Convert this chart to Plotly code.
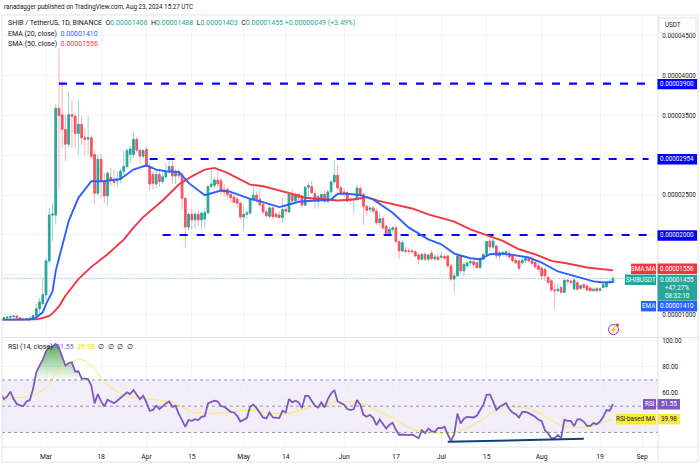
import pandas as pd
import plotly.graph_objects as go

# Prices are in units of 0.00000001 USDT
opens = [975,950,960,968,978,982,960,945,940,950,955,990,1075,1137,
 1250,1675,2250,2250,3590,3510,3325,3140,3510,3490,3275,3390,3220,3205,3220,3010,2525,2950,2675,2490,2725,2700,2680,2700,2800,2860,3010,3010,3200,3065,2990,
 3075,2860,2760,2640,2760,2670,2730,2790,2860,2740,2790,2760,2460,2100,2260,2190,2260,2190,2200,2280,2610,2625,2690,2680,2570,2570,2510,2475,2450,2400,
 2225,2260,2275,2450,2500,2450,2385,2290,2235,2340,2260,2250,2220,2320,2290,2510,2430,2510,2490,2375,2600,2610,2520,2420,2440,2510,2420,2542,2667,2750,2592,
 2540,2530,2450,2445,2445,2585,2510,2360,2320,2340,2300,2155,2205,2110,2010,2070,2090,1917,1800,1808,1800,1800,1790,1750,1696,1758,1696,1770,1700,1725,
 1720,1730,1737,1612,1446,1487,1737,1550,1612,1650,1665,1650,1592,1696,1758,1925,1850,1862,1737,1767,1770,1770,1737,1680,1675,1650,1683,1700,1675,1655,1612,
 1583,1570,1467,1425,1310,1300,1340,1280,1433,1420,1321,1400,1330,1375,1360,1335,1300,1330,1305,1342,1350,1400,1406]
highs = [985,965,975,985,990,990,965,955,955,965,995,1137,1210,1460,
 1712,2337,2400,3650,4340,3940,3510,3800,3700,3530,3700,3490,3340,3490,3260,3060,3010,3020,2780,2800,2840,2820,2800,2830,3050,3090,3120,3290,3230,3080,3080,
 3110,2900,2800,2820,2820,2780,2900,2930,2950,2830,2830,2790,2480,2280,2330,2280,2310,2290,2340,2620,2825,2720,2780,2720,2640,2600,2560,2520,2480,2420,
 2360,2300,2470,2610,2550,2570,2420,2320,2360,2360,2290,2300,2470,2370,2530,2570,2530,2530,2520,2610,2660,2680,2560,2500,2510,2560,2560,2680,2933,2880,2620,
 2590,2560,2470,2460,2640,2630,2530,2380,2370,2370,2330,2280,2240,2130,2100,2110,2110,1930,1940,1850,1840,1830,1810,1780,1770,1780,1750,1810,1760,1770,
 1790,1770,1750,1640,1540,1760,1760,1660,1670,1700,1690,1680,1710,1760,1925,1990,1960,1880,1800,1800,1810,1810,1760,1720,1700,1710,1730,1720,1740,1680,1650,
 1600,1590,1490,1450,1404,1400,1370,1440,1450,1440,1450,1440,1370,1400,1380,1350,1340,1345,1335,1390,1420,1440,1488]
lows = [940,935,945,955,955,950,935,930,935,940,945,975,1020,1130,
 1180,1640,1920,2130,2550,3090,2925,3090,3090,3090,3010,3130,3010,3010,2960,2390,2490,2470,2400,2360,2610,2630,2600,2650,2750,2830,2900,2970,3040,2900,2950,
 2850,2560,2570,2590,2600,2640,2710,2770,2640,2640,2700,2320,1840,2050,2070,2080,2110,2070,2090,2260,2590,2580,2600,2500,2480,2450,2410,2400,2340,2190,
 2060,2200,2250,2420,2400,2360,2260,2220,2210,2200,2210,2210,2150,2260,2280,2400,2400,2430,2340,2360,2480,2520,2330,2330,2420,2400,2400,2500,2630,2560,2510,
 2480,2410,2380,2270,2420,2440,2130,2240,2280,2270,2130,2110,2070,1990,1990,2040,1900,1700,1780,1770,1760,1770,1720,1630,1680,1670,1670,1680,1680,1680,
 1690,1690,1590,1420,1258,1470,1520,1480,1590,1610,1580,1570,1570,1680,1740,1800,1820,1700,1690,1730,1720,1700,1660,1640,1560,1620,1650,1660,1630,1580,1540,
 1440,1420,1380,1290,1071,1290,1260,1270,1370,1390,1310,1300,1310,1320,1290,1290,1290,1285,1295,1330,1340,1395,1403]
closes = [950,960,968,978,982,960,945,940,950,955,990,1075,1160,1250,
 1675,2250,2262,3590,3500,3325,3140,3510,3490,3275,3390,3220,3200,3220,2990,2525,2950,2675,2490,2775,2690,2660,2700,2800,2860,3060,3080,3200,3065,2990,3060,
 2860,2640,2650,2760,2670,2730,2790,2860,2740,2790,2745,2460,2100,2260,2190,2260,2190,2275,2280,2610,2640,2690,2640,2560,2540,2510,2470,2410,2400,2225,
 2260,2280,2450,2500,2450,2380,2290,2240,2340,2230,2230,2220,2320,2300,2510,2430,2510,2470,2375,2600,2620,2530,2425,2480,2510,2420,2540,2667,2750,2592,2530,
 2520,2425,2440,2455,2590,2510,2360,2310,2340,2300,2155,2205,2090,2010,2070,2090,1917,1800,1905,1795,1795,1790,1738,1696,1758,1696,1750,1700,1725,1690,
 1735,1710,1612,1446,1487,1737,1550,1633,1650,1665,1630,1592,1696,1758,1917,1850,1925,1737,1767,1780,1790,1725,1675,1650,1583,1683,1704,1675,1642,1600,1570,
 1487,1487,1404,1308,1300,1320,1280,1433,1420,1405,1433,1320,1365,1340,1310,1300,1320,1300,1325,1375,1405,1406,1455]

rsi = [59.2,55.4,57.4,61,55.4,51.6,50.6,50.1,53.6,54.6,63,75.8,80.9,85.2,
 91.8,94.9,95.4,97.4,94.4,87.3,80.9,82.9,83.4,76.3,76.6,71.2,70.7,70.7,65.6,52.1,59.2,53.6,49.8,54.9,53.6,52.3,54.1,56.2,57.9,60.5,59.2,62.3,58.7,55.4,57.9,
 52.9,46.5,47,50.3,47.8,49.8,52.1,53.6,49.5,50.3,43.9,39.4,34.3,39.4,38.8,40.1,39.4,41.9,42.4,52.1,52.9,54.1,53.6,50.1,49.5,47.8,45.7,45.2,42.7,38.3,
 39.4,40.9,49.5,51.1,48.5,44.4,41.4,40.6,45.2,41.4,41.4,40.9,46.5,45.2,55.4,52.9,54.1,52.9,48.5,57.9,57.9,54.1,50.3,49,52.9,49,55.4,59.7,62.3,53.6,52.3,
 51.1,47.8,47,47.8,54.6,51.1,43.4,41.9,43.4,40.9,35.5,39.9,36.3,33,35.8,37.3,32,28.1,28.4,27.9,27.9,28.4,27.1,25.6,31.7,29.4,33,31,30.4,33.5,
 33.2,34.3,28.6,23.5,28.6,44.4,36.8,40.4,41.9,41.9,41.4,42.9,47.2,51.1,58.7,59,53.6,47.2,49.5,51.1,52.3,47.8,45.2,43.9,41.4,45.7,45.7,44.7,43.4,41.9,39.6,
 38.8,31.7,29.2,25.6,25.6,28.1,25.6,39.6,38.8,38.8,34.8,39.9,39.9,38.1,35,35,37.1,36.3,38.3,41.9,47,46.5,51.55]

ema_dates = ["2024-02-16","2024-02-25","2024-02-27","2024-02-29","2024-03-01","2024-03-03","2024-03-04","2024-03-06","2024-03-08","2024-03-11","2024-03-15","2024-03-19","2024-03-24","2024-03-28","2024-04-01","2024-04-04","2024-04-07","2024-04-11","2024-04-14","2024-04-19","2024-04-24","2024-04-27","2024-04-30","2024-05-03","2024-05-07","2024-05-12","2024-05-15","2024-05-18","2024-05-24","2024-05-28","2024-05-30","2024-06-02","2024-06-06","2024-06-10","2024-06-16","2024-06-21","2024-06-27","2024-07-01","2024-07-05","2024-07-10","2024-07-13","2024-07-16","2024-07-19","2024-07-23","2024-07-28","2024-08-01","2024-08-06","2024-08-12","2024-08-17","2024-08-20","2024-08-23"]
ema_values = [937,937,967,1029,1133,1291,1550,1862,2175,2467,2675,2675,2704,2821,2875,2821,2800,2792,2654,2500,2558,2542,2496,2454,2412,2350,2383,2417,2437,2446,2517,2517,2500,2446,2279,2092,1946,1883,1767,1708,1696,1758,1767,1750,1717,1654,1542,1475,1417,1404,1410]

sma_dates = ["2024-02-16","2024-02-27","2024-02-29","2024-03-02","2024-03-03","2024-03-05","2024-03-07","2024-03-11","2024-03-15","2024-03-20","2024-03-25","2024-03-28","2024-03-31","2024-04-06","2024-04-11","2024-04-15","2024-04-19","2024-04-22","2024-04-26","2024-04-30","2024-05-03","2024-05-07","2024-05-12","2024-05-16","2024-05-20","2024-05-25","2024-05-30","2024-06-04","2024-06-08","2024-06-12","2024-06-17","2024-06-22","2024-06-27","2024-06-29","2024-07-05","2024-07-10","2024-07-15","2024-07-20","2024-07-25","2024-07-30","2024-08-04","2024-08-09","2024-08-15","2024-08-23"]
sma_values = [937,941,958,983,1016,1104,1237,1446,1600,1758,1941,2092,2225,2433,2633,2737,2821,2842,2779,2696,2633,2612,2562,2517,2467,2446,2433,2446,2475,2425,2375,2333,2258,2237,2167,2071,1996,1925,1821,1758,1675,1642,1592,1556]

rsi_ma_dates = ["2024-02-17","2024-02-18","2024-02-20","2024-02-24","2024-02-27","2024-03-01","2024-03-04","2024-03-08","2024-03-11","2024-03-13","2024-03-16","2024-03-19","2024-03-22","2024-03-26","2024-03-31","2024-04-05","2024-04-09","2024-04-12","2024-04-15","2024-04-20","2024-04-26","2024-04-30","2024-05-05","2024-05-08","2024-05-14","2024-05-18","2024-05-23","2024-05-28","2024-06-03","2024-06-08","2024-06-11","2024-06-16","2024-06-20","2024-06-23","2024-06-30","2024-07-05","2024-07-09","2024-07-13","2024-07-17","2024-07-21","2024-07-27","2024-08-01","2024-08-05","2024-08-08","2024-08-13","2024-08-17","2024-08-23"]
rsi_ma_values = [52.9,55.4,56.7,56.7,59.2,63.8,74.5,82.2,86,84.7,78.3,68.1,62.3,57.2,55.9,54.6,52.9,49,45.7,44.4,45,46.5,47,45.2,43.9,46.5,49.5,52.9,53.6,51.1,46.5,41.4,35,31.7,29.4,29.9,33.2,38.8,45.7,49.5,49,43.9,37.6,34.5,33.7,35,39.98]

level_values = [3900, 2954, 2000]
level_starts = ["2024-03-05", "2024-04-02", "2024-04-06"]
level_end = "2024-09-03"
trend_dates = ["2024-07-03", "2024-08-14"]
trend_values = [22.9, 25.1]
last_price = 1455

x_tick_dates = ["2024-03-01","2024-03-18","2024-04-01","2024-04-15","2024-05-01","2024-05-14","2024-06-01","2024-06-17","2024-07-01","2024-07-15","2024-08-01","2024-08-19","2024-09-01"]
x_tick_text = ["Mar","18","Apr","15","May","14","Jun","17","Jul","15","Aug","19","Sep"]
price_ticks = [1000,1500,2000,2500,3000,3500,4000,4500]
covered_price_ticks = [1500,2000,3000]
rsi_ticks = [100,80,60,40]
covered_rsi_ticks = [40]

UNIT = 1e-8
P = lambda seq: [v * UNIT for v in seq]
dates = pd.date_range("2024-02-16", periods=len(closes), freq="D")
W, H = 700, 466
FONT = "Roboto"
TXT = "#131722"
UP, DOWN = "#26a69a", "#f7525f"
BLUE, RED = "#2962ff", "#f23645"
PURPLE = "#7e57c2"
TAG_SIZE = 6.3
X = lambda px: px / W
Y = lambda py: 1 - py / H

fig = go.Figure()
# wicks
fig.add_trace(go.Candlestick(x=dates, open=P(opens), high=P(highs), low=P(lows), close=P(closes),
    increasing=dict(line=dict(color="#8fd0c8", width=0.9), fillcolor="#8fd0c8"),
    decreasing=dict(line=dict(color="#f9a5aa", width=0.9), fillcolor="#f9a5aa"),
    whiskerwidth=0, showlegend=False, hoverinfo="skip", xaxis="x", yaxis="y"))
# bodies
body_hi = [max(a, b) for a, b in zip(opens, closes)]
body_lo = [min(a, b) for a, b in zip(opens, closes)]
fig.add_trace(go.Candlestick(x=dates, open=P(opens), high=P(body_hi), low=P(body_lo), close=P(closes),
    increasing=dict(line=dict(color=UP, width=0.9), fillcolor=UP),
    decreasing=dict(line=dict(color=DOWN, width=0.9), fillcolor=DOWN),
    whiskerwidth=0, showlegend=False, hoverinfo="skip", xaxis="x", yaxis="y"))

fig.add_trace(go.Scatter(x=[dates[0], "2024-09-05"], y=P([last_price, last_price]), mode="lines",
    line=dict(color="#26a69a", width=0.8, dash="1px,2px"), showlegend=False, xaxis="x", yaxis="y"))
for value, start in zip(level_values, level_starts):
    fig.add_trace(go.Scatter(x=[start, level_end], y=P([value, value]), mode="lines",
        line=dict(color="#0000ff", width=2.2, dash="8px,9px"), showlegend=False, xaxis="x", yaxis="y"))
fig.add_trace(go.Scatter(x=sma_dates, y=P(sma_values), mode="lines", line=dict(color=RED, width=1.9),
    showlegend=False, xaxis="x", yaxis="y"))
fig.add_trace(go.Scatter(x=ema_dates, y=P(ema_values), mode="lines", line=dict(color=BLUE, width=1.9),
    showlegend=False, xaxis="x", yaxis="y"))

# RSI pane
green_x = list(dates[10:30])
green_y = [max(r, 70) for r in rsi[10:30]]
fig.add_trace(go.Scatter(x=green_x, y=green_y, mode="lines", line=dict(width=0), fill="toself",
    fillgradient=dict(type="vertical", colorscale=[[0, "rgba(76,175,80,0.03)"], [1, "rgba(67,160,71,0.9)"]]),
    showlegend=False, xaxis="x2", yaxis="y2"))
fig.add_trace(go.Scatter(x=rsi_ma_dates, y=rsi_ma_values, mode="lines", line=dict(color="#fde95e", width=1),
    showlegend=False, xaxis="x2", yaxis="y2"))
fig.add_trace(go.Scatter(x=dates, y=rsi, mode="lines", line=dict(color=PURPLE, width=1.8),
    showlegend=False, xaxis="x2", yaxis="y2"))
fig.add_trace(go.Scatter(x=trend_dates, y=trend_values, mode="lines", line=dict(color="#123f7a", width=2),
    showlegend=False, xaxis="x2", yaxis="y2"))

shapes = [
    dict(type="rect", xref="x2 domain", yref="y2", x0=0, x1=1, y0=30, y1=70,
         fillcolor="rgba(126,87,194,0.10)", line_width=0, layer="below"),
]
for lvl in (70, 50, 30):
    shapes.append(dict(type="line", xref="x2 domain", yref="y2", x0=0, x1=1, y0=lvl, y1=lvl,
                       line=dict(color="#787b86", width=0.8, dash="3px,3px")))
FRAME = "#e0e3eb"
for x0, y0, x1, y1 in [(2, 13, 698, 13), (2, 13, 2, 462), (698, 13, 698, 462), (2, 462, 698, 462),
                       (658, 13, 658, 462), (2, 337, 698, 337), (2, 447, 698, 447)]:
    shapes.append(dict(type="line", xref="paper", yref="paper", x0=X(x0), x1=X(x1), y0=Y(y0), y1=Y(y1),
                       line=dict(color=FRAME, width=1)))

annotations = []
def text(px, py, s, size=7, color=TXT, anchor="left"):
    annotations.append(dict(xref="paper", yref="paper", x=X(px), y=Y(py), text=s, showarrow=False,
                            xanchor=anchor, yanchor="middle", align=anchor,
                            font=dict(family=FONT, size=size, color=color)))
def tag(x0, x1, yc, h, s, bg, color="#ffffff", anchor="center", size=TAG_SIZE):
    shapes.append(dict(type="rect", xref="paper", yref="paper", x0=X(x0), x1=X(x1),
                       y0=Y(yc - h / 2), y1=Y(yc + h / 2), fillcolor=bg, line_width=0, layer="above"))
    px = (x0 + x1) / 2 if anchor == "center" else x0 + 4
    text(px, yc, s, size=size, color=color, anchor=anchor)

text(2, 5.5, "ranadagger published on TradingView.com, Aug 23, 2024 15:27 UTC", size=6.3)
g = "#26a69a"
hdr = ("SHIB / TetherUS, 1D, BINANCE  O<span style='color:%s'>0.00001406</span>  H<span style='color:%s'>0.00001488</span>"
       "  L<span style='color:%s'>0.00001403</span>  C<span style='color:%s'>0.00001455 +0.00000049 (+3.49%%)</span>") % (g, g, g, g)
text(6, 21.5, hdr, size=7)
text(6, 32, "EMA (20, close)  <span style='color:%s'>0.00001410</span>" % BLUE, size=7)
text(6, 42.5, "SMA (50, close)  <span style='color:%s'>0.00001556</span>" % RED, size=7)
text(6, 346.5, "RSI (14, close)  <span style='color:%s'>51.55</span>  <span style='color:#f5d90a'>39.98</span>  ∅  ∅  ∅  ∅" % PURPLE, size=7)

tag(659, 696, 23.5, 15, "USDT", "#ffffff", TXT, "left")
shapes.append(dict(type="rect", xref="paper", yref="paper", x0=X(659), x1=X(696), y0=Y(16), y1=Y(31),
                   line=dict(color=FRAME, width=1), layer="above"))
tag(657.5, 697, 82.5, 10.5, "0.00003900", "#0000ff")
tag(657.5, 697, 158, 10.5, "0.00002954", "#0000ff")
tag(657.5, 697, 234.5, 10.5, "0.00002000", "#0000ff")
tag(631, 656, 268, 10.5, "SMA:MA", RED)
tag(657.5, 697, 268, 10.5, "0.00001556", RED)
tag(625, 656, 279, 10.5, "SHIBUSDT", UP)
shapes.append(dict(type="rect", xref="paper", yref="paper", x0=X(657.5), x1=X(697), y0=Y(274), y1=Y(300),
                   fillcolor=UP, line_width=0, layer="above"))
text(677, 279, "0.00001455", size=TAG_SIZE, color="#ffffff", anchor="center")
text(677, 287, "+47.27%", size=TAG_SIZE, color="#ffffff", anchor="center")
text(677, 295, "08:32:10", size=TAG_SIZE, color="#ffffff", anchor="center")
tag(641, 656, 305.5, 10.5, "EMA", BLUE)
tag(657.5, 697, 305.5, 10.5, "0.00001410", BLUE)
tag(643, 656, 404, 10.5, "RSI", PURPLE)
tag(657.5, 680, 404, 10.5, "51.55", PURPLE)
tag(616, 656, 419, 10.5, "RSI-based MA", "#fdeb3b", TXT)
tag(657.5, 680, 419, 10.5, "39.98", "#fdeb3b", TXT)

# replay-mode icon
shapes.append(dict(type="circle", xref="paper", yref="paper", x0=X(608.5), x1=X(618.5), y0=Y(324), y1=Y(334),
                   line=dict(color="#9c27b0", width=1), layer="above"))
shapes.append(dict(type="circle", xref="paper", yref="paper", x0=X(616), x1=X(619), y0=Y(323), y1=Y(326),
                   fillcolor="#f23645", line_width=0, layer="above"))
text(613.5, 329, "⚡", size=7, color="#9c27b0", anchor="center")

GRID = "#f0f3fa"
left, right = "2024-02-16 10:00", "2024-09-05 21:36"
# labels sitting exactly behind an opaque price tag are left blank, their gridlines stay
price_text = ["" if v in covered_price_ticks else "%.8f" % (v * UNIT) for v in price_ticks]
rsi_text = ["" if v in covered_rsi_ticks else "%.2f" % v for v in rsi_ticks]
fig.update_layout(
    width=W, height=H, margin=dict(l=0, r=0, t=0, b=0), paper_bgcolor="#ffffff", plot_bgcolor="#ffffff",
    showlegend=False, shapes=shapes, annotations=annotations,
    font=dict(family=FONT, size=7, color=TXT),
    xaxis=dict(domain=[X(2), X(658)], range=[left, right], anchor="y", type="date", rangeslider=dict(visible=False),
               tickvals=x_tick_dates, showticklabels=False, showgrid=True, gridcolor=GRID, gridwidth=1, zeroline=False, ticks=""),
    yaxis=dict(domain=[Y(336), Y(13)], range=[725 * UNIT, 4762.5 * UNIT], anchor="x", side="right",
               tickvals=P(price_ticks), ticktext=price_text, ticks="outside", ticklen=2, tickcolor="rgba(0,0,0,0)",
               showgrid=True, gridcolor=GRID, gridwidth=1, zeroline=False, tickfont=dict(family=FONT, size=TAG_SIZE, color=TXT)),
    xaxis2=dict(domain=[X(2), X(658)], range=[left, right], anchor="y2", type="date", tickvals=x_tick_dates,
                ticktext=x_tick_text, ticks="outside", ticklen=4, tickcolor="rgba(0,0,0,0)", showgrid=True,
                gridcolor=GRID, gridwidth=1, zeroline=False,
                tickangle=0, tickfont=dict(family=FONT, size=6.8, color=TXT)),
    yaxis2=dict(domain=[Y(446), Y(338)], range=[19.6, 101.5], anchor="x2", side="right", tickvals=rsi_ticks,
                ticktext=rsi_text, ticks="outside", ticklen=2, tickcolor="rgba(0,0,0,0)",
                showgrid=True, gridcolor=GRID, gridwidth=1, zeroline=False, tickfont=dict(family=FONT, size=TAG_SIZE, color=TXT)),
)
# the browser's default 8px page margin would push the 700x466 figure out of the window
fig.write_html("out.html", config={"displayModeBar": False},
               post_script="document.body.style.margin='0';document.documentElement.style.overflow='hidden';")
